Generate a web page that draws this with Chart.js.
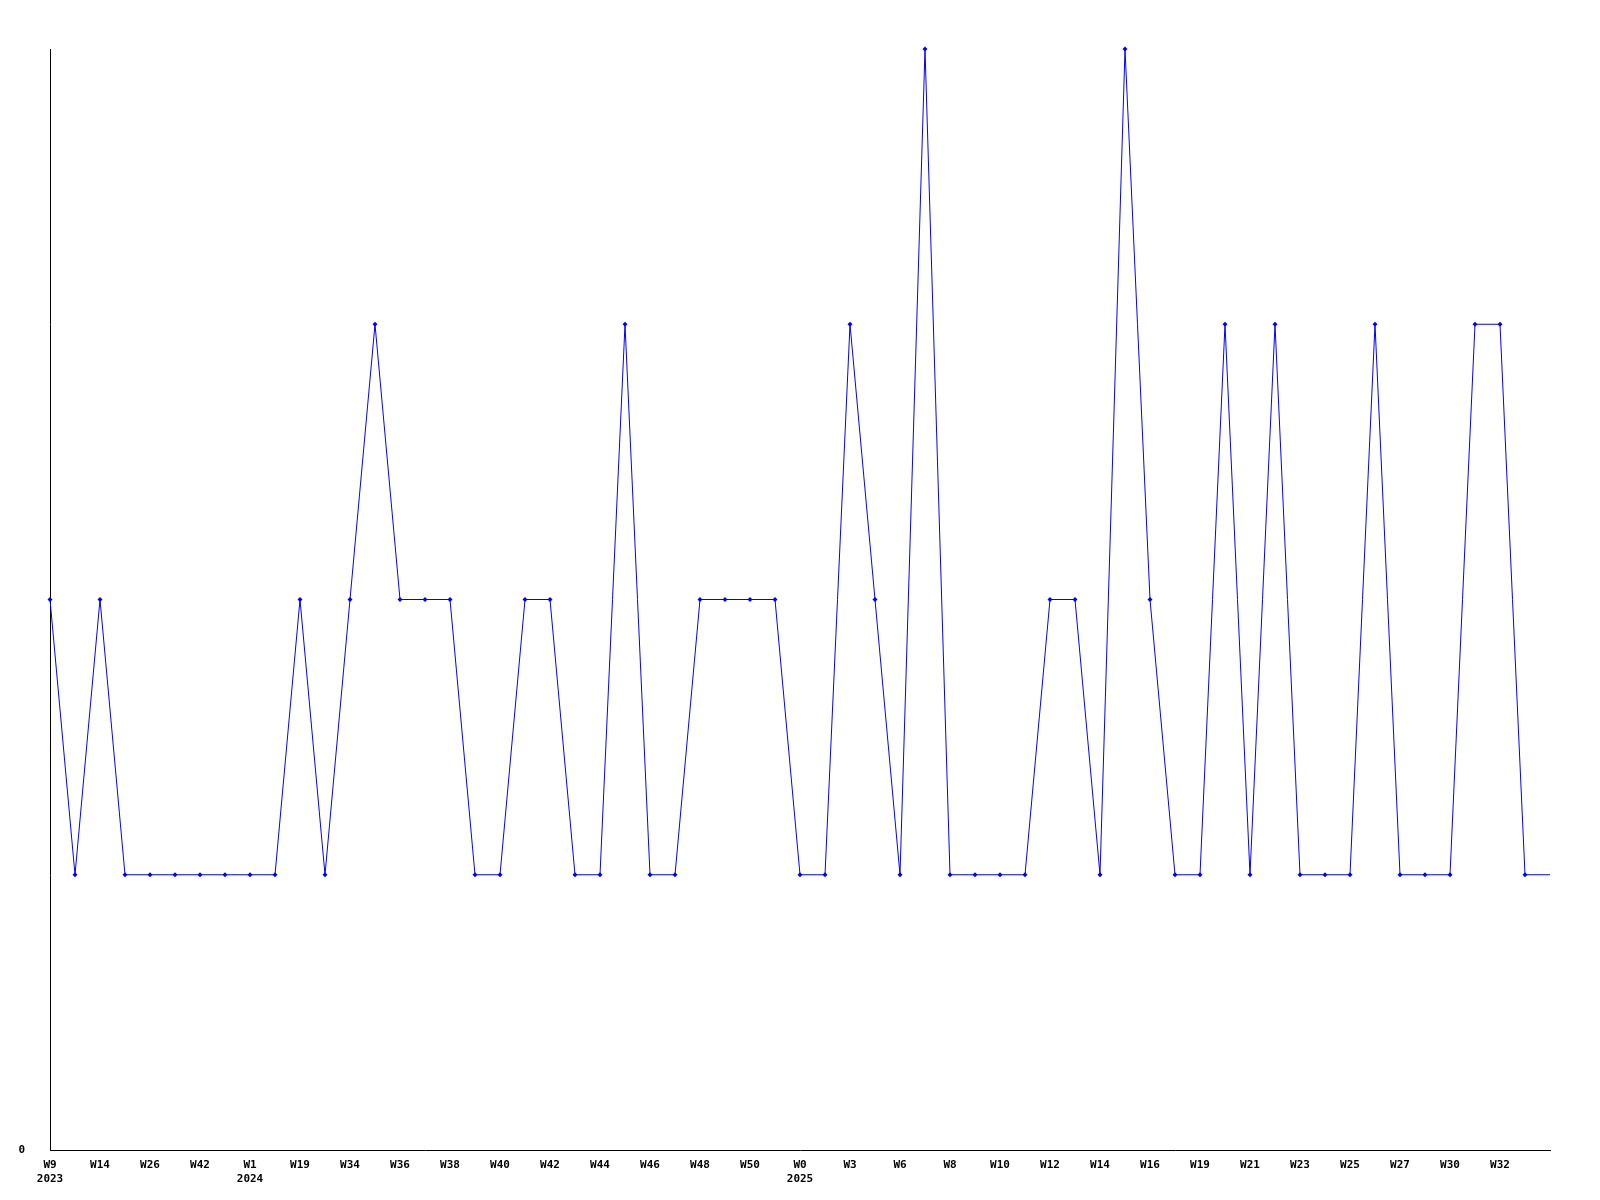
<!DOCTYPE html>
<html>
<head>
<meta charset="utf-8">
<script src="https://cdn.jsdelivr.net/npm/chart.js@4/dist/chart.umd.min.js"></script>
<style>
  html, body { margin: 0; padding: 0; background: #fff; }
  #wrap { width: 1600px; height: 1200px; }
</style>
</head>
<body>
<div id="wrap"><canvas id="mainChart" width="1600" height="1200"></canvas></div>
<script>
// week labels (only every other one is shown on the axis)
const weeks = [
  "W9","W12","W14","W20","W26","W35","W42","W48","W1","W10",
  "W19","W27","W34","W35","W36","W37","W38","W39","W40","W41",
  "W42","W43","W44","W45","W46","W47","W48","W49","W50","W51",
  "W0","W2","W3","W5","W6","W7","W8","W9","W10","W11",
  "W12","W13","W14","W15","W16","W18","W19","W20","W21","W22",
  "W23","W24","W25","W26","W27","W29","W30","W31","W32","W33",
  "W34"
];
const years = ["2023", "2024", "2025"];
const yearAt = [0, 8, 30];

const counts = [
  2,1,2,1,1,1,1,1,1,1,
  2,1,2,3,2,2,2,1,1,2,
  2,1,1,3,1,1,2,2,2,2,
  1,1,3,2,1,4,1,1,1,1,
  2,2,1,4,2,1,1,3,1,3,
  1,1,1,3,1,1,1,3,3,1,
  1
];

const labels = weeks.map((w, i) => {
  const k = yearAt.indexOf(i);
  return k >= 0 ? [w, years[k]] : w;
});

const tickFont = { family: "'DejaVu Sans Mono', monospace", size: 11, weight: "bold", lineHeight: 1.3 };

new Chart("mainChart", {
  type: "line",
  data: {
    labels: labels,
    datasets: [{
      data: counts,
      borderColor: "#0000ff",
      backgroundColor: "#0000ff",
      borderWidth: 1,
      tension: 0,
      clip: false,
      pointStyle: "rectRot",
      pointRadius: counts.map((v, i) => i === counts.length - 1 ? 0 : 2.5),
      pointBorderWidth: 0,
      pointHoverRadius: 0
    }]
  },
  options: {
    responsive: false,
    animation: false,
    layout: { padding: { top: 49, right: 50, left: 0, bottom: 0 } },
    plugins: { legend: { display: false }, tooltip: { enabled: false } },
    scales: {
      x: {
        offset: false,
        grid: { display: false, drawTicks: false },
        border: { display: true, color: "#000", width: 1 },
        ticks: {
          autoSkip: false,
          maxRotation: 0,
          minRotation: 0,
          padding: 8,
          color: "#000",
          font: tickFont,
          callback: function (val, i) {
            return (i % 2 === 0 && i < 60) ? labels[i] : "";
          }
        },
        afterFit: function (s) { s.height = 50; }
      },
      y: {
        min: 0,
        max: 4,
        grid: { display: false, drawTicks: false },
        border: { display: true, color: "#000", width: 1 },
        ticks: {
          stepSize: 1,
          padding: 25,
          color: "#000",
          font: tickFont,
          callback: function (v) { return v === 0 ? "0" : ""; }
        },
        afterFit: function (s) { s.width = 50; }
      }
    }
  }
});
</script>
</body>
</html>
